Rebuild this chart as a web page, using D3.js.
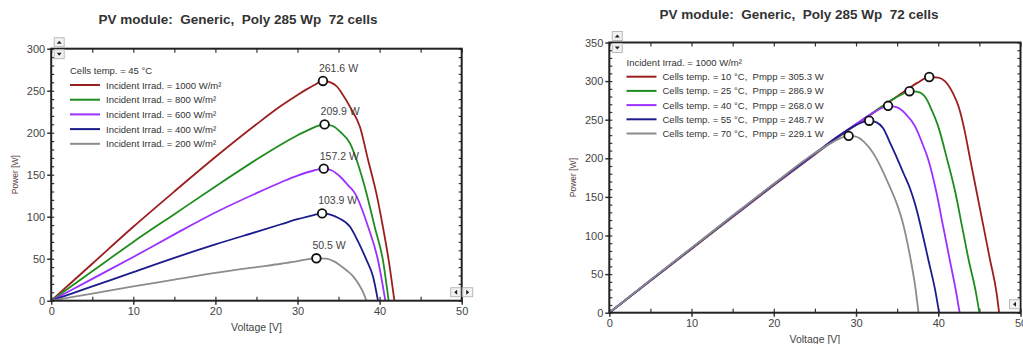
<!DOCTYPE html>
<html lang="en">
<head>
<meta charset="UTF-8">
<title>PV module curves</title>
<script src="https://cdn.jsdelivr.net/npm/d3@7"></script>
<style>
  body { margin: 0; background: #fff; }
  text { font-family: "Liberation Sans", Arial, sans-serif; }
</style>
</head>
<body>
<svg width="1023" height="344"></svg>
<script>
// ---- data ----
const chartTitle = "PV module:  Generic,  Poly 285 Wp  72 cells";
const voltTicks = [0, 10, 20, 30, 40, 50];
const powerTicksLeft = [0, 50, 100, 150, 200, 250, 300];
const powerTicksRight = [0, 50, 100, 150, 200, 250, 300, 350];

// left: cells at 45 °C, several irradiances  [V, P]
const irr1000 = [[0,0],[5,44],[10,88],[15,130],[20,171],[25,210],[28,232],[30,245],[31,251],[32,256.5],[33.1,261.6],[34,260],[34.8,255],[35.4,247],[36.5,229],[37.6,207],[38.6,167.5],[39.6,128],[40.4,88],[41.1,48.5],[41.8,0]];
const irr800 = [[0,0],[5,35],[10,70],[15,103],[20,136],[25,168],[28,186],[30,197],[31.3,203],[32.3,207.5],[33.3,209.9],[34.3,208],[35.3,200],[36.4,187.4],[37.2,167.5],[38.4,128],[39.4,88],[40.4,48.5],[41.1,0]];
const irr600 = [[0,0],[5,26],[10,52],[15,79],[20,105],[25,128],[28,141],[30,149],[32,155],[33.2,157.2],[34.2,155],[35.2,147.6],[36.2,137],[37,127.8],[38.6,88],[39.8,48.5],[40.7,0]];
const irr400 = [[0,0],[5,17],[10,34],[15,51],[20,67],[25,82],[28,91],[30,97],[32,102],[33,103.9],[34,102.5],[35,98.5],[36.4,88],[37.4,70],[38.4,48.5],[39.2,28.7],[39.8,0]];
const irr200 = [[0,0],[5,8.5],[10,17],[15,25],[20,33],[25,40],[28,44],[30,47],[31,49],[32.3,50.5],[33.5,50],[34.5,46.5],[35.2,42],[36,36],[36.8,28.7],[37.5,19],[38,10],[38.4,0]];
const irrLabels = ["Incident Irrad. = 1000 W/m²", "Incident Irrad. = 800 W/m²", "Incident Irrad. = 600 W/m²", "Incident Irrad. = 400 W/m²", "Incident Irrad. = 200 W/m²"];
const irrMpp = [[33.1,261.6],[33.3,209.9],[33.2,157.2],[33.0,103.9],[32.3,50.5]];
const irrMppLabels = ["261.6 W", "209.9 W", "157.2 W", "103.9 W", "50.5 W"];

// right: 1000 W/m², several cell temperatures  [V, P]
const temp10 = [[0,0],[5,41.3],[10,82.5],[15,124],[20,165],[25,205],[28,228.5],[30,243.3],[32,258],[34,272.8],[36,287.5],[37.5,298],[38.9,305.3],[40,304.5],[40.8,300],[41.8,284],[42.5,266],[43.1,241],[43.9,197.8],[44.7,154.7],[45.5,111.4],[46.3,68.3],[47.1,25.1],[47.4,0]];
const temp25 = [[0,0],[5,41.6],[10,83],[15,124.6],[20,165.6],[25,205.6],[28,229],[30,244],[32,258.8],[34,273.3],[35.5,282.5],[36.5,286.9],[37.5,286],[38.5,278],[39.2,262.6],[40,241],[41.1,197.8],[42.1,154.7],[42.9,111.4],[43.7,68.3],[44.6,25.1],[45,0]];
const temp40 = [[0,0],[5,41.8],[10,83.4],[15,125],[20,166],[25,206],[28,229.5],[30,244.3],[32,258.5],[33,264.5],[33.9,268],[35,266],[36,258],[37.2,241],[38,221],[38.8,197.8],[39.8,154.7],[40.6,111.4],[41.4,68.3],[42.2,25.1],[42.6,0]];
const temp55 = [[0,0],[5,42],[10,83.7],[15,125.4],[20,166.5],[25,206.5],[28,230],[30,243],[31,247.5],[31.6,248.7],[32.5,246.5],[33.3,239],[34.1,221],[35,200],[35.8,180],[36.6,160],[37.2,140],[37.8,115],[38.8,68.3],[39.7,25.1],[40.1,0]];
const temp70 = [[0,0],[5,42.2],[10,84],[15,125.8],[20,167],[25,206.8],[27,220],[28,225.5],[29.1,229.1],[30,228],[31,221],[32.1,206.5],[33,189],[34.1,163.2],[35,140],[35.6,120],[36.5,76.9],[37.2,33.7],[37.6,0]];
const tempLabels = ["Cells temp. = 10 °C,  Pmpp = 305.3 W", "Cells temp. = 25 °C,  Pmpp = 286.9 W", "Cells temp. = 40 °C,  Pmpp = 268.0 W", "Cells temp. = 55 °C,  Pmpp = 248.7 W", "Cells temp. = 70 °C,  Pmpp = 229.1 W"];
const tempMpp = [[38.9,305.3],[36.5,286.9],[33.9,268.0],[31.6,248.7],[29.1,229.1]];

const colors = ["#9c1f1f", "#1f8c1f", "#9b30ff", "#1c1c8c", "#8c8c8c"];

const svg = d3.select("svg");

function drawChart(o) {
  const x = d3.scaleLinear().domain([0, 50]).range([o.x0, o.x1]);
  const y = d3.scaleLinear().domain([0, o.yMax]).range([o.y0, o.y1]);
  const g = svg.append("g");

  g.append("text").attr("x", o.titleX).attr("y", o.titleY)
    .attr("text-anchor", "middle").attr("font-size", 13.5).attr("font-weight", "bold")
    .attr("fill", "#333").style("white-space", "pre").text(chartTitle);

  // outward major ticks with labels
  const xAx = g.append("g").attr("transform", `translate(0,${o.y0})`)
    .call(d3.axisBottom(x).tickValues(voltTicks).tickSize(4).tickPadding(3));
  const yAx = g.append("g").attr("transform", `translate(${o.x0},0)`)
    .call(d3.axisLeft(y).tickValues(o.yTicks).tickSize(4).tickPadding(2));
  [xAx, yAx].forEach(a => {
    a.select(".domain").remove();
    a.selectAll("line").attr("stroke", "#333").attr("stroke-width", 1.5);
    a.selectAll("text").attr("font-size", 11).attr("fill", "#444")
      .style("font-family", "'Liberation Sans', Arial, sans-serif");
  });

  // inner minor ticks
  const minorV = d3.range(0, 50.1, 5);
  const minorP = d3.range(0, o.yMax + 0.1, 10);
  const inner = [
    [d3.axisTop(x).tickValues(minorV).tickSize(4), `translate(0,${o.y0})`],
    [d3.axisBottom(x).tickValues(minorV).tickSize(4), `translate(0,${o.y1})`],
    [d3.axisRight(y).tickValues(minorP).tickSize(3), `translate(${o.x0},0)`],
    [d3.axisLeft(y).tickValues(minorP).tickSize(3), `translate(${o.x1},0)`]
  ];
  inner.forEach(([ax, tr]) => {
    const a = g.append("g").attr("transform", tr).call(ax.tickFormat(""));
    a.select(".domain").remove();
    a.selectAll("line").attr("stroke", "#333").attr("stroke-width", 1.2);
  });

  // series
  const line = d3.line().x(d => x(d[0])).y(d => y(d[1])).curve(d3.curveMonotoneX);
  o.series.forEach((s, i) => {
    g.append("path").attr("d", line(s)).attr("fill", "none")
      .attr("stroke", colors[i]).attr("stroke-width", 1.8);
  });

  // max power points
  o.mpp.forEach((p, i) => {
    g.append("circle").attr("cx", x(p[0])).attr("cy", y(p[1])).attr("r", 4.3)
      .attr("fill", "#fff").attr("stroke", "#111").attr("stroke-width", 1.8);
    if (o.mppLabels) {
      g.append("text").attr("x", x(p[0]) - 4).attr("y", y(p[1]) - 9)
        .attr("font-size", 10.5).attr("fill", "#444").text(o.mppLabels[i]);
    }
  });

  // frame
  g.append("rect").attr("x", o.x0).attr("y", o.y1)
    .attr("width", o.x1 - o.x0).attr("height", o.y0 - o.y1)
    .attr("fill", "none").attr("stroke", "#222").attr("stroke-width", 2);

  // legend
  g.append("text").attr("x", o.legX).attr("y", o.legY0 - o.legDy + 3.5)
    .attr("font-size", 9.5).attr("fill", "#333").text(o.legHeader);
  o.legLabels.forEach((t, i) => {
    const ly = o.legY0 + i * o.legDy;
    g.append("line").attr("x1", o.legX).attr("x2", o.legX + 30).attr("y1", ly).attr("y2", ly)
      .attr("stroke", colors[i]).attr("stroke-width", 2);
    g.append("text").attr("x", o.legX + 36).attr("y", ly + 3.5)
      .attr("font-size", 9.5).attr("fill", "#333").style("white-space", "pre").text(t);
  });

  // axis titles
  g.append("text").attr("x", (o.x0 + o.x1) / 2).attr("y", o.y0 + 30)
    .attr("text-anchor", "middle").attr("font-size", 10.5).attr("fill", "#444").text("Voltage [V]");
  g.append("text").attr("transform", `translate(${o.x0 - 33},${(o.y0 + o.y1) / 2}) rotate(-90)`)
    .attr("text-anchor", "middle").attr("font-size", 8.5).attr("fill", "#5a4040").text("Power [W]");

  // little scroll buttons of the original viewer
  const btn = (bx, by, dir) => {
    g.append("rect").attr("x", bx).attr("y", by).attr("width", 10).attr("height", 9)
      .attr("fill", "#f2f2f2").attr("stroke", "#bbb");
    const cx = bx + 5, cy = by + 4.5;
    const tri = {
      up: [[cx - 2.5, cy + 1.5], [cx + 2.5, cy + 1.5], [cx, cy - 1.5]],
      down: [[cx - 2.5, cy - 1.5], [cx + 2.5, cy - 1.5], [cx, cy + 1.5]],
      left: [[cx + 1.5, cy - 2.5], [cx + 1.5, cy + 2.5], [cx - 1.5, cy]],
      right: [[cx - 1.5, cy - 2.5], [cx - 1.5, cy + 2.5], [cx + 1.5, cy]]
    }[dir];
    g.append("polygon").attr("points", tri.map(p => p.join(",")).join(" ")).attr("fill", "#222");
  };
  btn(o.x0 + 3, o.y1 - 11, "up");
  btn(o.x0 + 3, o.y1 + 1, "down");
  btn(o.x1 - 11, o.y0 - 13, "left");
  if (o.rightBtn) btn(o.x1 + 1, o.y0 - 13, "right");
}

drawChart({
  x0: 51.2, x1: 461.7, y0: 300.7, y1: 48.7, yMax: 300, yTicks: powerTicksLeft,
  titleX: 238, titleY: 24,
  series: [irr1000, irr800, irr600, irr400, irr200],
  mpp: irrMpp, mppLabels: irrMppLabels,
  legX: 70, legY0: 85, legDy: 14.7, legHeader: "Cells temp. = 45 °C", legLabels: irrLabels,
  rightBtn: true
});

drawChart({
  x0: 609.3, x1: 1020.5, y0: 312.7, y1: 42.5, yMax: 350, yTicks: powerTicksRight,
  titleX: 799, titleY: 19,
  series: [temp10, temp25, temp40, temp55, temp70],
  mpp: tempMpp, mppLabels: null,
  legX: 626.5, legY0: 76.7, legDy: 14.2, legHeader: "Incident Irrad. = 1000 W/m²", legLabels: tempLabels,
  rightBtn: false
});
</script>
</body>
</html>
